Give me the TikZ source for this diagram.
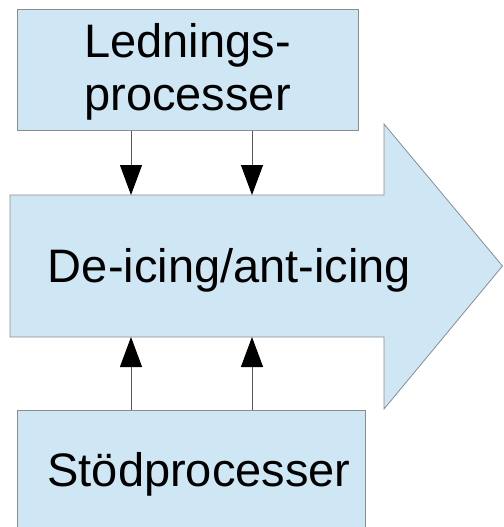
\documentclass[tikz,border=0pt]{standalone}
\usepackage{fontspec}
\setmainfont{Liberation Sans}
\usetikzlibrary{arrows.meta}
\definecolor{boxfill}{HTML}{CFE6F4}
\definecolor{boxline}{HTML}{8C8C8C}
\begin{document}
\begin{tikzpicture}[x=1pt,y=-1pt,
  panel/.style={fill=boxfill,draw=boxline,line width=0.8pt},
  caption/.style={font=\fontsize{47}{52}\selectfont,inner sep=0pt,anchor=base},
  link/.style={draw=black!65,line width=1pt,-{Triangle[length=30pt,width=22pt,black]}}]
\useasboundingbox (0,0) rectangle (503,527);
\clip (0,0) rectangle (503,527);

% process boxes
\node[panel,anchor=north west,minimum width=341pt,minimum height=121pt,inner sep=0pt] (lead) at (17,9) {};
\node[panel,anchor=north west,minimum width=348pt,minimum height=130pt,inner sep=0pt] (support) at (17,410) {};

% main block arrow
\draw[panel] (10,195) -- (384,195) -- (384,124) -- (502.5,266) -- (384,409)
  -- (384,337) -- (10,337) -- cycle;

% texts
\node[caption] (leadA) at (187.5,58) {Lednings-};
\node[caption] (leadB) at (187.5,110) {processer};
\node[caption] (main) at (229.5,282) {De-icing/ant-icing};
\node[caption] (supp) at (199,486) {Stödprocesser};

% connector end points on the block arrow
\coordinate (inA) at (131,195);
\coordinate (inB) at (252,195);
\coordinate (outA) at (131,337);
\coordinate (outB) at (252,337);

\draw[link] (lead.south -| inA) -- (inA);
\draw[link] (lead.south -| inB) -- (inB);
\draw[link] (support.north -| outA) -- (outA);
\draw[link] (support.north -| outB) -- (outB);
\end{tikzpicture}
\end{document}
